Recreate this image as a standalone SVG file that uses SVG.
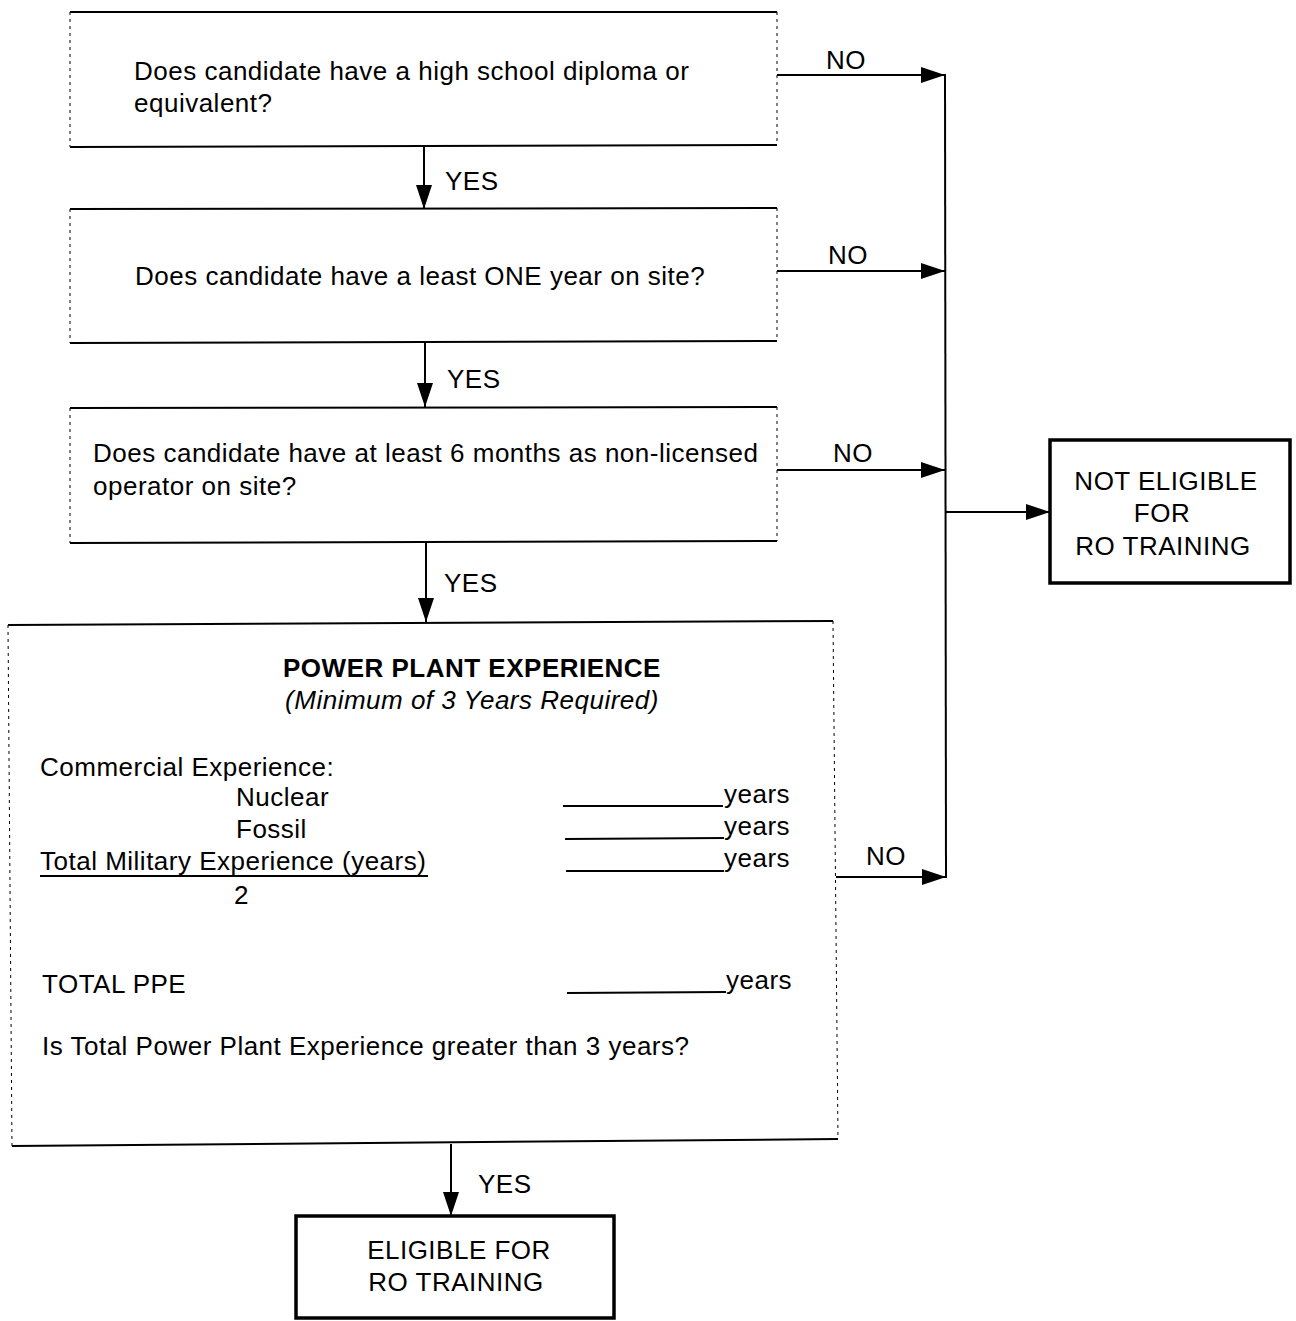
<svg xmlns="http://www.w3.org/2000/svg" width="1296" height="1321" viewBox="0 0 1296 1321">
<defs>
<marker id="ah" viewBox="0 0 24 16" refX="24" refY="8" markerWidth="24" markerHeight="16" markerUnits="userSpaceOnUse" orient="auto">
<path d="M0,0 L24,8 L0,16 Z" fill="#000"/>
</marker>
</defs>
<style>
text{font-family:"Liberation Sans",Arial,sans-serif;font-size:26px;letter-spacing:0.5px;fill:#000}
.solid{stroke:#000;stroke-width:2;fill:none}
.dot{stroke:#000;stroke-width:1;stroke-dasharray:3 4;fill:none}
.thick{stroke:#000;stroke-width:3.5;fill:#fff}
.conn{stroke:#000;stroke-width:2;fill:none}
.arr{stroke:#000;stroke-width:2;fill:none;marker-end:url(#ah)}
.mid{text-anchor:middle}
</style>
<rect width="1296" height="1321" fill="#fff"/>
<g id="q1">
<line class="solid" x1="70" y1="12" x2="777" y2="12"/>
<line class="solid" x1="70" y1="147" x2="777" y2="145"/>
<line class="dot" x1="70" y1="12" x2="70" y2="147"/>
<line class="dot" x1="777" y1="12" x2="777" y2="145"/>
<text x="134" y="80">Does candidate have a high school diploma or</text>
<text x="134" y="112">equivalent?</text>
</g>
<g id="q2">
<line class="solid" x1="70" y1="209" x2="777" y2="208"/>
<line class="solid" x1="70" y1="343" x2="777" y2="341"/>
<line class="dot" x1="70" y1="209" x2="70" y2="343"/>
<line class="dot" x1="777" y1="208" x2="777" y2="341"/>
<text x="135" y="285">Does candidate have a least ONE year on site?</text>
</g>
<g id="q3">
<line class="solid" x1="70" y1="408" x2="777" y2="407"/>
<line class="solid" x1="70" y1="543" x2="777" y2="541"/>
<line class="dot" x1="70" y1="408" x2="70" y2="543"/>
<line class="dot" x1="777" y1="407" x2="777" y2="541"/>
<text x="93" y="462">Does candidate have at least 6 months as non-licensed</text>
<text x="93" y="495">operator on site?</text>
</g>
<g id="ppe">
<line class="solid" x1="8" y1="625" x2="833" y2="621"/>
<line class="solid" x1="12" y1="1146" x2="838" y2="1139"/>
<line class="dot" x1="8" y1="625" x2="12" y2="1146"/>
<line class="dot" x1="833" y1="621" x2="838" y2="1139"/>
<text x="472" y="677" class="mid" font-weight="bold">POWER PLANT EXPERIENCE</text>
<text x="472" y="709" class="mid" font-style="italic">(Minimum of 3 Years Required)</text>
<text x="40" y="776">Commercial Experience:</text>
<text x="236" y="806">Nuclear</text>
<text x="236" y="838">Fossil</text>
<text x="40" y="870">Total Military Experience (years)</text>
<line class="solid" x1="40" y1="876" x2="428" y2="876"/>
<text x="234" y="904">2</text>
<line class="solid" x1="563" y1="806" x2="723" y2="806"/>
<text x="724" y="803">years</text>
<line class="solid" x1="565" y1="839" x2="724" y2="838"/>
<text x="724" y="835">years</text>
<line class="solid" x1="566" y1="871" x2="724" y2="871"/>
<text x="724" y="867">years</text>
<text x="42" y="993">TOTAL PPE</text>
<line class="solid" x1="567" y1="993" x2="726" y2="992"/>
<text x="726" y="989">years</text>
<text x="42" y="1055">Is Total Power Plant Experience greater than 3 years?</text>
</g>
<g id="not-eligible">
<rect class="thick" x="1050" y="440" width="240" height="143"/>
<text x="1166" y="490" class="mid">NOT ELIGIBLE</text>
<text x="1162" y="522" class="mid">FOR</text>
<text x="1163" y="555" class="mid">RO TRAINING</text>
</g>
<g id="eligible">
<rect class="thick" x="296" y="1216" width="318" height="102"/>
<text x="459" y="1259" class="mid">ELIGIBLE FOR</text>
<text x="456" y="1291" class="mid">RO TRAINING</text>
</g>
<g id="connectors">
<line class="arr" x1="424" y1="147" x2="424" y2="209"/>
<text x="445" y="190">YES</text>
<line class="arr" x1="425" y1="343" x2="425" y2="407"/>
<text x="447" y="388">YES</text>
<line class="arr" x1="426" y1="543" x2="426" y2="622"/>
<text x="444" y="592">YES</text>
<line class="arr" x1="451" y1="1144" x2="451" y2="1216"/>
<text x="478" y="1193">YES</text>
<line class="conn" x1="945" y1="74" x2="946" y2="878"/>
<line class="arr" x1="777" y1="75" x2="945" y2="75"/>
<text x="826" y="69">NO</text>
<line class="arr" x1="777" y1="271" x2="945" y2="271"/>
<text x="828" y="264">NO</text>
<line class="arr" x1="777" y1="470" x2="945" y2="470"/>
<text x="833" y="462">NO</text>
<line class="arr" x1="836" y1="877" x2="946" y2="877"/>
<text x="866" y="865">NO</text>
<line class="arr" x1="945" y1="512" x2="1050" y2="512"/>
</g>
</svg>
